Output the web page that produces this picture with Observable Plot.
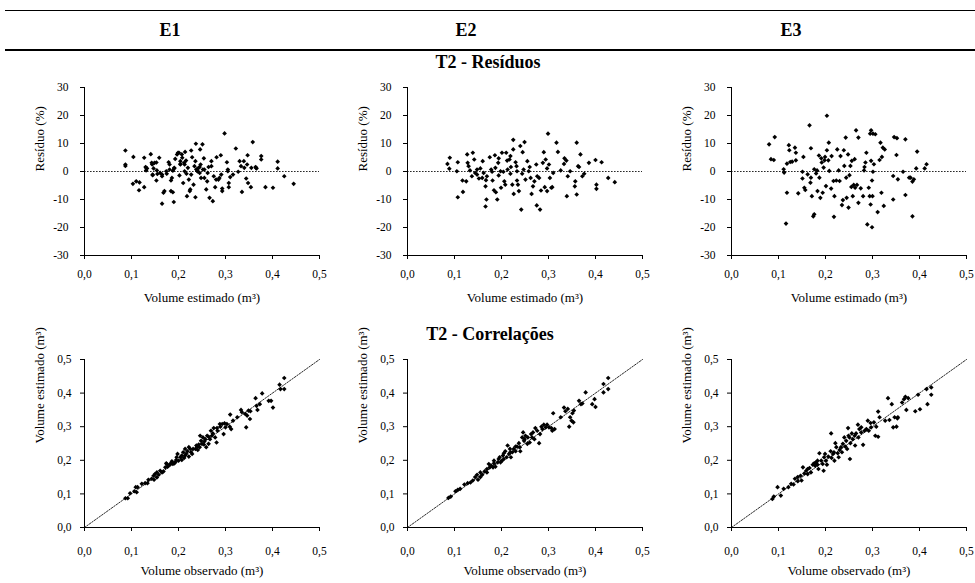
<!DOCTYPE html>
<html>
<head>
<meta charset="utf-8">
<script src="https://cdn.jsdelivr.net/npm/d3@7"></script>
<script src="https://cdn.jsdelivr.net/npm/@observablehq/plot@0.6"></script>
<style>
  html, body { margin: 0; padding: 0; background: #fff; }
  #root { position: relative; width: 975px; height: 583px; overflow: hidden; font-family: "Liberation Serif", "Times New Roman", serif; color: #000; }
  .hdr { position: absolute; transform: translate(-50%, -50%); font-weight: bold; font-size: 18px; line-height: 1; white-space: nowrap; }
  .rule { position: absolute; background: #000; }
  .panel { position: absolute; }
  .panel svg { overflow: visible; }
</style>
</head>
<body>
<div id="root"></div>
<script>
// ---- labels ----
const columnLabels = ["E1", "E2", "E3"];
const sectionTitles = ["T2 - Resíduos", "T2 - Correlações"];
const residualYLabel = "Resíduo (%)";
const residualXLabel = "Volume estimado (m³)";
const corrYLabel = "Volume estimado (m³)";
const corrXLabel = "Volume observado (m³)";
const volumeTicks = [0, 0.1, 0.2, 0.3, 0.4, 0.5];
const residualTicks = [-30, -20, -10, 0, 10, 20, 30];

// ---- residuals: [estimated volume, residual %] ----
const resE1 = [[0.087,7.5],[0.087,2.5],[0.087,2.0],[0.104,5.2],[0.103,-4.4],[0.110,-3.5],[0.117,-3.9],[0.116,-6.7],[0.127,-5.6],[0.127,4.9],[0.130,1.6],[0.131,0.4],[0.133,1.1],[0.141,6.2],[0.143,3.1],[0.145,-1.3],[0.147,1.1],[0.153,3.2],[0.154,0.4],[0.153,-3.2],[0.159,4.9],[0.161,-0.5],[0.165,-1.7],[0.165,-11.5],[0.168,-7.6],[0.170,-7.0],[0.175,-0.8],[0.179,3.3],[0.181,0.7],[0.184,-3.2],[0.184,-7.0],[0.188,-7.4],[0.190,-10.9],[0.191,1.1],[0.193,4.5],[0.199,6.7],[0.202,-1.4],[0.204,3.7],[0.204,2.5],[0.207,6.1],[0.210,-4.1],[0.212,3.1],[0.214,7.0],[0.217,-0.8],[0.218,-8.8],[0.222,-2.9],[0.224,-7.0],[0.225,-6.4],[0.227,7.5],[0.229,5.1],[0.232,-4.7],[0.236,3.7],[0.236,-9.2],[0.237,9.9],[0.239,0.7],[0.241,0.1],[0.245,1.6],[0.246,7.9],[0.248,-2.3],[0.251,9.7],[0.254,4.7],[0.255,0.7],[0.259,-6.4],[0.261,-3.5],[0.264,1.6],[0.266,-9.4],[0.270,3.7],[0.273,-10.6],[0.275,-1.7],[0.278,-5.6],[0.281,5.1],[0.285,-2.9],[0.290,5.8],[0.293,-6.1],[0.293,-7.0],[0.298,13.6],[0.303,3.3],[0.305,0.7],[0.307,-4.1],[0.307,-5.6],[0.310,-2.0],[0.322,8.2],[0.327,-0.1],[0.330,3.7],[0.333,1.9],[0.335,-7.3],[0.339,3.7],[0.344,-2.5],[0.346,2.5],[0.347,5.8],[0.348,-4.1],[0.354,-5.6],[0.358,10.5],[0.364,1.6],[0.366,1.1],[0.376,5.5],[0.376,4.3],[0.385,-5.6],[0.401,-5.8],[0.411,3.5],[0.411,1.1],[0.425,-1.7],[0.445,-4.4],
  [0.131,1.3],[0.144,2.5],[0.149,3.1],[0.145,-1.1],[0.155,-0.9],[0.165,-1.1],[0.174,0.1],[0.181,2.5],[0.186,-2.3],[0.188,0.3],[0.191,1.3],[0.197,6.1],[0.201,6.7],[0.204,2.7],[0.208,4.9],[0.213,2.5],[0.213,0.1],[0.216,3.9],[0.220,1.3],[0.227,-1.1],[0.234,1.9],[0.238,0.7],[0.240,0.1],[0.243,1.3],[0.245,-0.5],[0.247,2.5],[0.252,0.7],[0.255,-2.3],[0.262,-0.5],[0.270,1.9],[0.280,-2.9],[0.287,-2.3],[0.291,-1.1],[0.305,0.1],[0.316,-1.1],[0.340,1.3],[0.355,1.3],[0.365,1.3]];

const resE2 = [[0.085,2.7],[0.090,4.9],[0.089,1.0],[0.107,3.3],[0.105,0.1],[0.107,-9.2],[0.117,-3.2],[0.118,-7.3],[0.125,-3.5],[0.127,6.1],[0.128,3.1],[0.130,1.9],[0.133,0.4],[0.137,-1.7],[0.139,6.7],[0.142,4.3],[0.144,-0.5],[0.148,0.7],[0.152,-2.5],[0.155,1.1],[0.160,3.7],[0.162,-0.5],[0.166,-5.3],[0.167,-3.1],[0.168,-10.0],[0.166,-12.5],[0.175,5.1],[0.178,0.7],[0.181,-3.2],[0.184,-6.7],[0.186,5.8],[0.187,1.3],[0.188,-7.4],[0.191,-10.0],[0.193,3.1],[0.194,4.7],[0.198,0.1],[0.199,-5.8],[0.201,6.7],[0.206,-3.5],[0.208,-4.7],[0.210,6.7],[0.212,3.9],[0.213,0.7],[0.217,4.3],[0.220,1.6],[0.223,-4.7],[0.225,11.3],[0.225,7.9],[0.226,-8.0],[0.230,3.3],[0.232,1.9],[0.235,-4.7],[0.237,-7.0],[0.240,9.1],[0.242,-13.6],[0.245,6.9],[0.247,0.7],[0.249,10.5],[0.251,-2.9],[0.255,3.7],[0.258,0.1],[0.262,-2.3],[0.264,-8.0],[0.267,-5.3],[0.270,-3.5],[0.274,2.5],[0.275,-12.1],[0.280,-2.3],[0.282,-13.6],[0.284,-6.8],[0.288,3.1],[0.290,6.9],[0.292,-5.6],[0.294,4.3],[0.297,-7.0],[0.299,13.5],[0.301,2.5],[0.303,-2.3],[0.306,-5.8],[0.308,-5.6],[0.310,-0.5],[0.317,10.3],[0.320,7.0],[0.326,0.4],[0.333,2.7],[0.334,4.7],[0.338,3.9],[0.339,-8.8],[0.341,-1.7],[0.346,0.1],[0.356,-5.3],[0.357,-3.5],[0.360,-8.2],[0.360,10.3],[0.363,1.9],[0.365,1.6],[0.368,6.1],[0.372,-1.7],[0.376,-0.8],[0.386,3.1],[0.402,-4.7],[0.402,-6.2],[0.400,4.1],[0.413,3.3],[0.427,-2.3],[0.441,-3.8],
  [0.194,-1.4],[0.204,-0.1],[0.219,-0.8],[0.233,0.1],[0.244,-0.8],[0.260,1.6],[0.276,-1.7],[0.297,1.1],[0.180,-0.1],[0.169,-1.7],[0.159,-2.3],[0.148,-1.1],[0.219,5.5],[0.233,-3.2]];

const resE3 = [[0.080,9.7],[0.084,4.4],[0.090,4.1],[0.092,12.3],[0.111,0.8],[0.112,-0.4],[0.116,-18.6],[0.118,-7.6],[0.118,2.8],[0.122,9.4],[0.123,7.6],[0.125,3.4],[0.129,3.5],[0.135,8.5],[0.137,6.7],[0.137,4.0],[0.142,-7.8],[0.151,-0.1],[0.151,-2.5],[0.153,5.2],[0.155,-5.8],[0.157,-6.6],[0.162,-1.0],[0.166,16.5],[0.168,-4.0],[0.169,8.3],[0.169,-2.2],[0.171,-8.8],[0.174,-16.0],[0.176,-15.3],[0.176,0.8],[0.180,-0.7],[0.182,0.4],[0.183,-7.0],[0.186,5.7],[0.187,-2.2],[0.189,-9.4],[0.191,4.7],[0.192,3.2],[0.194,-7.6],[0.196,1.4],[0.198,4.0],[0.199,5.2],[0.201,-5.2],[0.203,19.9],[0.203,7.6],[0.206,4.0],[0.207,10.3],[0.208,0.2],[0.212,-6.1],[0.213,5.5],[0.217,-3.4],[0.218,-16.2],[0.219,-8.8],[0.223,-3.2],[0.225,7.9],[0.228,0.4],[0.230,-3.4],[0.232,5.5],[0.235,-12.0],[0.237,-10.2],[0.239,7.6],[0.240,2.0],[0.243,12.1],[0.244,-2.2],[0.245,-9.4],[0.248,6.1],[0.249,-12.9],[0.251,-1.3],[0.253,2.0],[0.255,-5.5],[0.256,3.8],[0.258,-8.8],[0.260,-4.8],[0.262,4.4],[0.263,-5.8],[0.265,14.7],[0.267,-4.8],[0.270,-11.2],[0.270,12.1],[0.275,-6.0],[0.280,-8.8],[0.282,0.4],[0.283,1.6],[0.285,3.2],[0.287,6.7],[0.289,-18.9],[0.292,-5.8],[0.294,-8.8],[0.295,13.5],[0.296,-11.8],[0.297,14.7],[0.297,3.8],[0.299,-3.2],[0.301,13.5],[0.299,-19.9],[0.300,-8.8],[0.301,-0.1],[0.303,2.6],[0.306,13.3],[0.311,-14.5],[0.315,4.1],[0.317,10.3],[0.319,-7.6],[0.320,5.2],[0.322,8.5],[0.324,-12.3],[0.326,7.9],[0.344,-10.0],[0.344,-1.6],[0.346,12.3],[0.351,5.9],[0.352,11.9],[0.354,-2.8],[0.365,-0.1],[0.370,-8.4],[0.370,11.5],[0.378,-2.2],[0.381,-2.2],[0.385,-3.6],[0.385,-16.0],[0.388,-2.8],[0.393,1.1],[0.395,7.1],[0.411,1.1],[0.415,2.6]];

// ---- correlations: [observed volume, estimated volume] ----
const corE1 = [[0.087,0.087],[0.092,0.087],[0.097,0.102],[0.106,0.108],[0.109,0.120],[0.113,0.120],[0.111,0.105],[0.122,0.130],[0.129,0.132],[0.134,0.132],[0.143,0.145],[0.147,0.154],[0.150,0.159],[0.148,0.142],[0.154,0.164],[0.158,0.157],[0.161,0.169],[0.165,0.164],[0.168,0.167],[0.172,0.179],[0.174,0.191],[0.177,0.181],[0.181,0.187],[0.184,0.191],[0.188,0.189],[0.191,0.191],[0.195,0.201],[0.198,0.219],[0.200,0.199],[0.204,0.209],[0.207,0.214],[0.210,0.224],[0.212,0.207],[0.214,0.234],[0.216,0.219],[0.219,0.227],[0.222,0.211],[0.225,0.234],[0.229,0.219],[0.231,0.234],[0.236,0.234],[0.238,0.244],[0.241,0.231],[0.243,0.247],[0.245,0.239],[0.246,0.273],[0.248,0.258],[0.250,0.249],[0.252,0.268],[0.255,0.256],[0.257,0.263],[0.259,0.239],[0.261,0.273],[0.264,0.249],[0.267,0.263],[0.269,0.288],[0.271,0.273],[0.275,0.296],[0.278,0.268],[0.281,0.253],[0.283,0.288],[0.288,0.308],[0.293,0.308],[0.296,0.278],[0.298,0.310],[0.303,0.308],[0.309,0.300],[0.310,0.336],[0.312,0.293],[0.316,0.318],[0.325,0.328],[0.333,0.350],[0.335,0.343],[0.342,0.338],[0.344,0.298],[0.346,0.333],[0.349,0.348],[0.352,0.323],[0.353,0.346],[0.364,0.385],[0.366,0.362],[0.368,0.350],[0.373,0.367],[0.378,0.399],[0.392,0.377],[0.397,0.377],[0.401,0.357],[0.415,0.425],[0.417,0.412],[0.425,0.445],[0.425,0.412],
  [0.136,0.142],[0.154,0.149],[0.175,0.189],[0.186,0.197],[0.193,0.194],[0.207,0.201],[0.214,0.214],[0.227,0.224],[0.240,0.241],[0.254,0.247],[0.264,0.270],[0.273,0.280],[0.282,0.296],[0.289,0.300],[0.300,0.298],[0.196,0.209],[0.222,0.239]];

const corE2 = [[0.087,0.088],[0.092,0.092],[0.102,0.108],[0.107,0.112],[0.112,0.115],[0.121,0.128],[0.128,0.132],[0.134,0.134],[0.139,0.140],[0.144,0.150],[0.148,0.157],[0.150,0.142],[0.155,0.164],[0.159,0.157],[0.164,0.167],[0.169,0.164],[0.173,0.189],[0.175,0.179],[0.178,0.184],[0.182,0.179],[0.184,0.191],[0.187,0.181],[0.192,0.194],[0.196,0.209],[0.198,0.194],[0.201,0.199],[0.203,0.214],[0.205,0.204],[0.208,0.227],[0.211,0.209],[0.213,0.244],[0.216,0.219],[0.218,0.234],[0.220,0.209],[0.223,0.224],[0.226,0.234],[0.230,0.227],[0.233,0.241],[0.237,0.251],[0.239,0.239],[0.240,0.227],[0.244,0.268],[0.246,0.283],[0.248,0.258],[0.251,0.273],[0.255,0.249],[0.256,0.268],[0.260,0.253],[0.263,0.278],[0.267,0.283],[0.270,0.263],[0.272,0.296],[0.276,0.288],[0.280,0.251],[0.282,0.278],[0.285,0.300],[0.290,0.306],[0.294,0.298],[0.297,0.306],[0.301,0.298],[0.306,0.296],[0.308,0.288],[0.310,0.340],[0.313,0.293],[0.326,0.328],[0.333,0.357],[0.336,0.346],[0.341,0.353],[0.344,0.300],[0.346,0.328],[0.349,0.318],[0.351,0.340],[0.353,0.313],[0.354,0.348],[0.365,0.377],[0.369,0.367],[0.372,0.369],[0.379,0.402],[0.393,0.367],[0.398,0.382],[0.400,0.359],[0.417,0.427],[0.417,0.402],[0.427,0.445],[0.427,0.412],
  [0.194,0.204],[0.219,0.224],[0.230,0.241],[0.249,0.263],[0.265,0.268],[0.287,0.293],[0.155,0.150],[0.169,0.174],[0.184,0.199],[0.205,0.221]];

const corE3 = [[0.087,0.085],[0.090,0.092],[0.098,0.120],[0.105,0.095],[0.111,0.115],[0.121,0.120],[0.127,0.130],[0.132,0.128],[0.135,0.145],[0.141,0.138],[0.147,0.154],[0.149,0.140],[0.152,0.179],[0.155,0.161],[0.159,0.169],[0.162,0.159],[0.166,0.177],[0.169,0.164],[0.173,0.187],[0.176,0.191],[0.178,0.184],[0.180,0.194],[0.183,0.187],[0.185,0.174],[0.187,0.221],[0.191,0.199],[0.194,0.189],[0.196,0.169],[0.199,0.219],[0.201,0.199],[0.203,0.187],[0.206,0.211],[0.211,0.227],[0.212,0.280],[0.213,0.207],[0.218,0.224],[0.219,0.199],[0.221,0.251],[0.223,0.239],[0.226,0.221],[0.228,0.209],[0.230,0.231],[0.235,0.224],[0.237,0.249],[0.240,0.268],[0.242,0.241],[0.244,0.258],[0.246,0.234],[0.248,0.296],[0.249,0.273],[0.252,0.204],[0.253,0.251],[0.256,0.280],[0.258,0.263],[0.262,0.273],[0.263,0.244],[0.265,0.280],[0.269,0.306],[0.270,0.268],[0.272,0.293],[0.276,0.298],[0.280,0.246],[0.283,0.288],[0.287,0.293],[0.290,0.318],[0.292,0.288],[0.296,0.311],[0.297,0.298],[0.303,0.313],[0.306,0.273],[0.308,0.300],[0.312,0.345],[0.312,0.270],[0.315,0.328],[0.327,0.318],[0.333,0.385],[0.336,0.320],[0.341,0.367],[0.344,0.298],[0.347,0.328],[0.351,0.300],[0.353,0.325],[0.354,0.328],[0.363,0.372],[0.367,0.382],[0.370,0.389],[0.372,0.350],[0.376,0.385],[0.391,0.346],[0.397,0.395],[0.401,0.352],[0.415,0.412],[0.417,0.367],[0.425,0.417],[0.425,0.395],
  [0.183,0.199],[0.197,0.209],[0.216,0.219],[0.233,0.239],[0.251,0.268],[0.276,0.283],[0.162,0.174],[0.141,0.150]];

const residualSets = [resE1, resE2, resE3];
const correlationSets = [corE1, corE2, corE3];

// ---- layout ----
const root = document.getElementById("root");
function addRule(left, top, width, height) {
  const d = document.createElement("div");
  d.className = "rule";
  Object.assign(d.style, {left: left + "px", top: top + "px", width: width + "px", height: height + "px"});
  root.appendChild(d);
}
function addText(txt, cx, cy) {
  const d = document.createElement("div");
  d.className = "hdr";
  d.textContent = txt;
  d.style.left = cx + "px";
  d.style.top = cy + "px";
  root.appendChild(d);
}
addRule(5, 10, 970, 1.3);
addRule(5, 48.5, 970, 2.6);
const colCenters = [170, 466, 791];
columnLabels.forEach((t, i) => addText(t, colCenters[i], 30));
addText(sectionTitles[0], 488, 62);
addText(sectionTitles[1], 490, 334);

const fmtVol = d => d.toFixed(1).replace(".", ",");
const ML = 84, MR = 8, MT = 12, MB = 62, FW = 235, FH = 168;
const W = ML + FW + MR, H = MT + FH + MB;
const frameLefts = [84.3, 407.3, 730.7];

function panel(type, data) {
  const isRes = type === "res";
  const marks = [];
  if (isRes) {
    marks.push(Plot.ruleY([0], {x1: 0, x2: 0.5, stroke: "#111", strokeWidth: 0.9, strokeDasharray: "1.6,1.4"}));
  } else {
    marks.push(Plot.line([[0, 0], [0.5, 0.5]], {x: d => d[0], y: d => d[1], stroke: "#111", strokeWidth: 0.9, strokeDasharray: "1.6,1.4"}));
  }
  marks.push(
    Plot.dot(data, {x: d => d[0], y: d => d[1], symbol: "diamond2", r: 2.1, fill: "#000", stroke: null}),
    Plot.ruleX([0], {stroke: "#000", strokeWidth: 1}),
    Plot.ruleY([isRes ? -30 : 0], {stroke: "#000", strokeWidth: 1}),
    Plot.axisX({ticks: volumeTicks, tickFormat: fmtVol, tickSize: 4, tickPadding: isRes ? 10 : 15, label: null}),
    Plot.axisY({ticks: isRes ? residualTicks : volumeTicks, tickFormat: isRes ? (d => String(d)) : fmtVol, tickSize: 4, tickPadding: isRes ? 12 : 9, label: null}),
    Plot.text([isRes ? residualXLabel : corrXLabel], {frameAnchor: "bottom", dy: isRes ? 46 : 47, fontSize: 13, text: d => d}),
    Plot.text([isRes ? residualYLabel : corrYLabel], {frameAnchor: "left", rotate: -90, dx: -45, fontSize: 13, text: d => d})
  );
  return Plot.plot({
    width: W, height: H,
    marginLeft: ML, marginRight: MR, marginTop: MT, marginBottom: MB,
    style: {fontFamily: "Liberation Serif, Times New Roman, serif", fontSize: "11.5px", color: "#000", background: "transparent", overflow: "visible"},
    x: {domain: [0, 0.5]},
    y: {domain: isRes ? [-30, 30] : [0, 0.5]},
    marks
  });
}

residualSets.forEach((data, i) => {
  const el = panel("res", data);
  const wrap = document.createElement("div");
  wrap.className = "panel";
  wrap.style.left = (frameLefts[i] - ML) + "px";
  wrap.style.top = (86.7 - MT) + "px";
  wrap.appendChild(el);
  root.appendChild(wrap);
});
correlationSets.forEach((data, i) => {
  const el = panel("cor", data);
  const wrap = document.createElement("div");
  wrap.className = "panel";
  wrap.style.left = (frameLefts[i] - ML) + "px";
  wrap.style.top = (358.7 - MT) + "px";
  wrap.appendChild(el);
  root.appendChild(wrap);
});
</script>
</body>
</html>
